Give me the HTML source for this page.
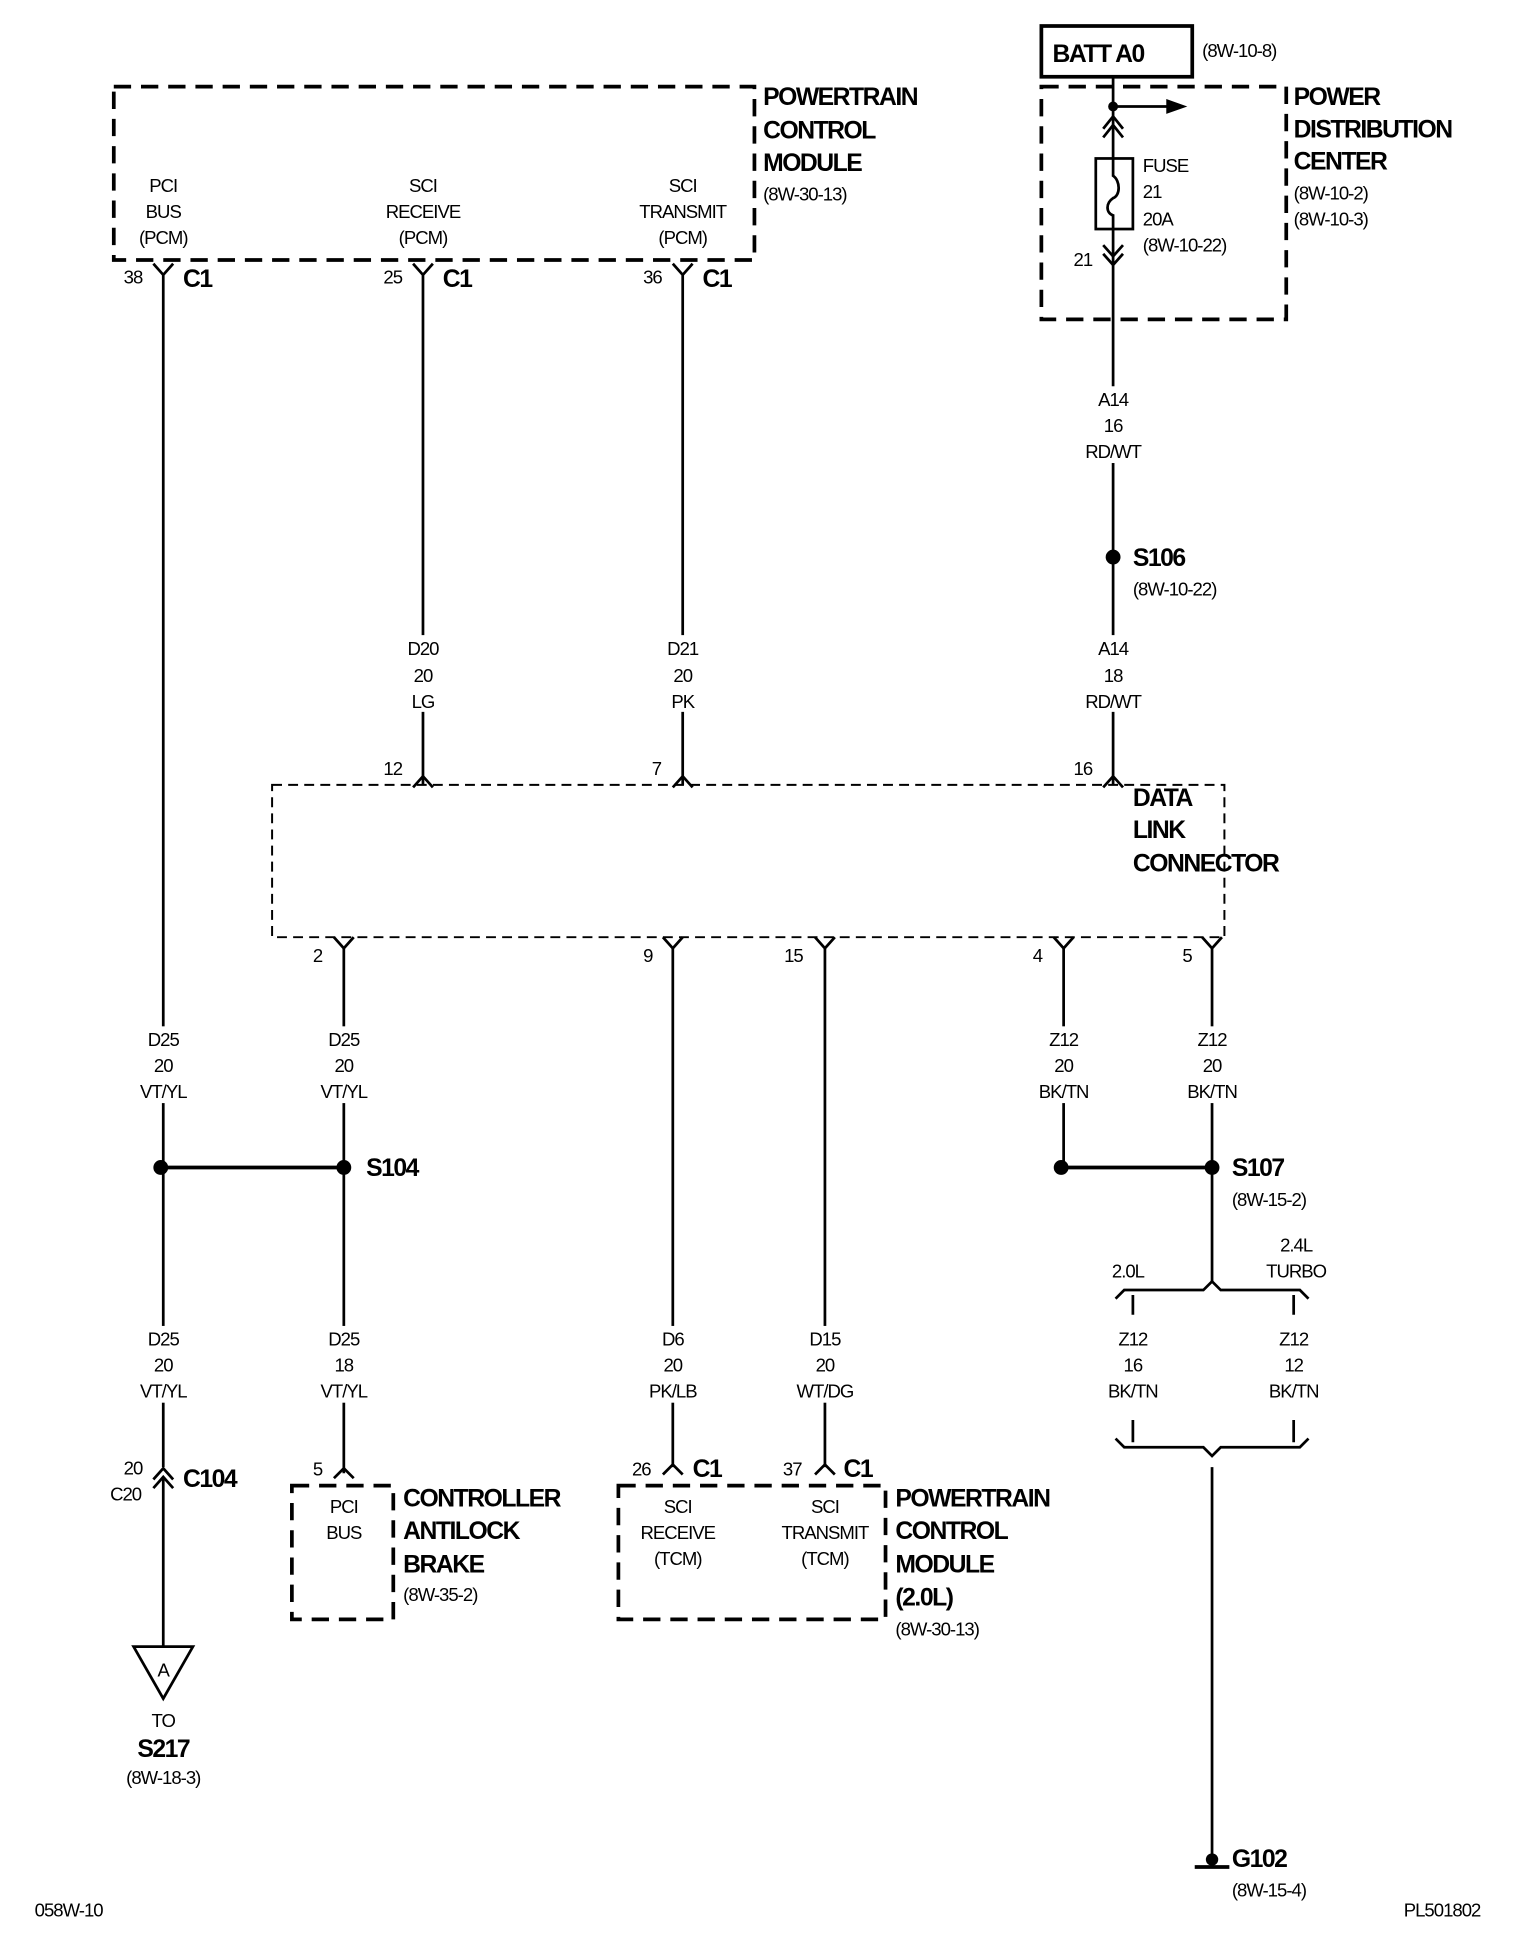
<!DOCTYPE html>
<html><head><meta charset="utf-8"><style>
html,body{margin:0;padding:0;background:#fff;}
svg{display:block}
text{font-family:"Liberation Sans",Arial,sans-serif;fill:#000;}
.s{font-size:15px;letter-spacing:-0.8px;text-anchor:middle}
.l{font-size:15px;letter-spacing:-0.8px}
.b{font-size:20px;font-weight:bold;letter-spacing:-1.2px}
.w{stroke:#000;stroke-width:2.2;fill:none}
.d{stroke:#000;stroke-width:3;fill:none;stroke-dasharray:14 8}
.t{stroke:#000;stroke-width:1.6;fill:none;stroke-dasharray:8 5}
</style></head><body>
<svg width="1520" height="1940" viewBox="0 0 1229 1567" preserveAspectRatio="none" xmlns="http://www.w3.org/2000/svg">
<!-- PCM top -->
<rect x="92" y="70" width="518" height="140" class="d"/>
<text class="s" x="132" y="155">PCI</text><text class="s" x="132" y="176">BUS</text><text class="s" x="132" y="197">(PCM)</text>
<text class="s" x="342" y="155">SCI</text><text class="s" x="342" y="176">RECEIVE</text><text class="s" x="342" y="197">(PCM)</text>
<text class="s" x="552" y="155">SCI</text><text class="s" x="552" y="176">TRANSMIT</text><text class="s" x="552" y="197">(PCM)</text>
<text class="b" x="617" y="85">POWERTRAIN</text><text class="b" x="617" y="112">CONTROL</text><text class="b" x="617" y="138">MODULE</text>
<text class="l" x="617" y="162">(8W-30-13)</text>
<g class="w">
<path d="M124 213 L132 222 L140 213 M132 222 V943 M132 943 V1330"/>
<path d="M334 213 L342 222 L350 213 M342 222 V634"/>
<path d="M544 213 L552 222 L560 213 M552 222 V634"/>
</g>
<text class="l" x="100" y="229">38</text><text class="b" x="148" y="232">C1</text>
<text class="l" x="310" y="229">25</text><text class="b" x="358" y="232">C1</text>
<text class="l" x="520" y="229">36</text><text class="b" x="568" y="232">C1</text>
<!-- BATT / PDC -->
<rect x="842" y="21" width="122" height="41" fill="none" stroke="#000" stroke-width="3"/>
<text class="b" x="851" y="50">BATT A0</text>
<text class="l" x="972" y="46">(8W-10-8)</text>
<rect x="842" y="70" width="198" height="188" class="d"/>
<text class="b" x="1046" y="85">POWER</text><text class="b" x="1046" y="111">DISTRIBUTION</text><text class="b" x="1046" y="137">CENTER</text>
<text class="l" x="1046" y="161">(8W-10-2)</text><text class="l" x="1046" y="182">(8W-10-3)</text>
<g class="w">
<path d="M900 62 V128 M900 185 V634"/>
<path d="M900 86 H945"/>
<path d="M892 104 L900 94 L908 104 M892 111 L900 101 L908 111"/>
<rect x="886" y="128" width="30" height="57"/>
<path d="M900 128 V142 C906 146 906 158 900 160 C894 164 894 172 900 174 V185"/>
<path d="M892 198 L900 207 L908 198 M892 205 L900 214 L908 205"/>
</g>
<circle cx="900" cy="86" r="4"/>
<path d="M943 80 L960 86 L943 92 Z"/>
<text class="l" x="924" y="139">FUSE</text><text class="l" x="924" y="160">21</text><text class="l" x="924" y="182">20A</text><text class="l" x="924" y="203">(8W-10-22)</text>
<text class="l" x="868" y="215">21</text>
<circle cx="900" cy="450" r="6"/>
<text class="b" x="916" y="457">S106</text><text class="l" x="916" y="481">(8W-10-22)</text>
<!-- DLC -->
<rect x="220" y="634" width="770" height="123" class="t"/>
<g class="w">
<path d="M334 636 L342 627 L350 636"/><path d="M544 636 L552 627 L560 636"/><path d="M892 636 L900 627 L908 636"/>
<path d="M270 757 L278 766 L286 757 M278 766 V1190"/>
<path d="M536 757 L544 766 L552 757 M544 766 V1185"/>
<path d="M659 757 L667 766 L675 757 M667 766 V1185"/>
<path d="M852 757 L860 766 L868 757 M860 766 V943"/>
<path d="M972 757 L980 766 L988 757 M980 766 V1035"/>
</g>
<text class="l" x="310" y="626">12</text><text class="l" x="527" y="626">7</text><text class="l" x="868" y="626">16</text>
<text class="b" x="916" y="651">DATA</text><text class="b" x="916" y="677">LINK</text><text class="b" x="916" y="704">CONNECTOR</text>
<text class="l" x="253" y="777">2</text><text class="l" x="520" y="777">9</text><text class="l" x="634" y="777">15</text><text class="l" x="835" y="777">4</text><text class="l" x="956" y="777">5</text>
<!-- white gaps behind labels -->
<g fill="#fff">
<rect x="100" y="829" width="64" height="62"/><rect x="246" y="829" width="64" height="62"/>
<rect x="828" y="829" width="64" height="62"/><rect x="948" y="829" width="64" height="62"/>
<rect x="100" y="1071" width="64" height="62"/><rect x="246" y="1071" width="64" height="62"/>
<rect x="512" y="1071" width="64" height="62"/><rect x="635" y="1071" width="64" height="62"/>
<rect x="500" y="513" width="104" height="62"/><rect x="290" y="513" width="104" height="62"/>
<rect x="868" y="513" width="64" height="62"/><rect x="868" y="312" width="64" height="62"/>
</g>
<text class="s" x="132" y="845">D25</text><text class="s" x="132" y="866">20</text><text class="s" x="132" y="887">VT/YL</text>
<text class="s" x="278" y="845">D25</text><text class="s" x="278" y="866">20</text><text class="s" x="278" y="887">VT/YL</text>
<text class="s" x="860" y="845">Z12</text><text class="s" x="860" y="866">20</text><text class="s" x="860" y="887">BK/TN</text>
<text class="s" x="980" y="845">Z12</text><text class="s" x="980" y="866">20</text><text class="s" x="980" y="887">BK/TN</text>
<text class="s" x="342" y="529">D20</text><text class="s" x="342" y="551">20</text><text class="s" x="342" y="572">LG</text>
<text class="s" x="552" y="529">D21</text><text class="s" x="552" y="551">20</text><text class="s" x="552" y="572">PK</text>
<text class="s" x="900" y="529">A14</text><text class="s" x="900" y="551">18</text><text class="s" x="900" y="572">RD/WT</text>
<text class="s" x="900" y="328">A14</text><text class="s" x="900" y="349">16</text><text class="s" x="900" y="370">RD/WT</text>
<!-- splices -->
<path class="w" d="M130 943 H278 M858 943 H980" style="stroke-width:3"/>
<circle cx="130" cy="943" r="6"/><circle cx="278" cy="943" r="6"/>
<circle cx="858" cy="943" r="6"/><circle cx="980" cy="943" r="6"/>
<text class="b" x="296" y="950">S104</text>
<text class="b" x="996" y="950">S107</text><text class="l" x="996" y="974">(8W-15-2)</text>
<!-- brackets -->
<g class="w">
<path d="M902 1049 L909 1042 H973 L980 1035 L987 1042 H1051 L1058 1049"/>
<path d="M916 1046 V1062 M1046 1046 V1062 M916 1147 V1165 M1046 1147 V1165"/>
<path d="M902 1162 L909 1169 H973 L980 1176 L987 1169 H1051 L1058 1162"/>
<path d="M980 1185 V1502"/>
</g>
<text class="s" x="912" y="1032">2.0L</text>
<text class="s" x="1048" y="1011">2.4L</text><text class="s" x="1048" y="1032">TURBO</text>
<text class="s" x="916" y="1087">Z12</text><text class="s" x="916" y="1108">16</text><text class="s" x="916" y="1129">BK/TN</text>
<text class="s" x="1046" y="1087">Z12</text><text class="s" x="1046" y="1108">12</text><text class="s" x="1046" y="1129">BK/TN</text>
<text class="s" x="132" y="1087">D25</text><text class="s" x="132" y="1108">20</text><text class="s" x="132" y="1129">VT/YL</text>
<text class="s" x="278" y="1087">D25</text><text class="s" x="278" y="1108">18</text><text class="s" x="278" y="1129">VT/YL</text>
<text class="s" x="544" y="1087">D6</text><text class="s" x="544" y="1108">20</text><text class="s" x="544" y="1129">PK/LB</text>
<text class="s" x="667" y="1087">D15</text><text class="s" x="667" y="1108">20</text><text class="s" x="667" y="1129">WT/DG</text>
<!-- ground -->
<circle cx="980" cy="1502" r="5"/>
<path d="M966 1508 H994" stroke="#000" stroke-width="3"/>
<text class="b" x="996" y="1508">G102</text><text class="l" x="996" y="1532">(8W-15-4)</text>
<!-- C104 -->
<rect x="126" y="1185" width="12" height="8" fill="#fff"/>
<g class="w">
<path d="M124 1195 L132 1186 L140 1195 M124 1202 L132 1193 L140 1202"/>
<path d="M108 1330 H156 L132 1372 Z"/>
<path d="M270 1194 L278 1186 L286 1194"/>
<path d="M536 1191 L544 1183 L552 1191"/>
<path d="M659 1191 L667 1183 L675 1191"/>
</g>
<text class="l" x="100" y="1191">20</text><text class="l" x="89" y="1212">C20</text>
<text class="b" x="148" y="1201">C104</text>
<text class="s" x="132" y="1354">A</text>
<text class="s" x="132" y="1395">TO</text>
<text class="b" x="132" y="1419" text-anchor="middle">S217</text>
<text class="s" x="132" y="1441">(8W-18-3)</text>
<!-- ABS -->
<rect x="236" y="1200" width="82" height="108" class="d"/>
<text class="l" x="253" y="1192">5</text>
<text class="s" x="278" y="1222">PCI</text><text class="s" x="278" y="1243">BUS</text>
<text class="b" x="326" y="1217">CONTROLLER</text><text class="b" x="326" y="1243">ANTILOCK</text><text class="b" x="326" y="1270">BRAKE</text>
<text class="l" x="326" y="1293">(8W-35-2)</text>
<!-- PCM 2.0L -->
<rect x="500" y="1200" width="216" height="108" class="d"/>
<text class="l" x="511" y="1192">26</text><text class="b" x="560" y="1193">C1</text>
<text class="l" x="633" y="1192">37</text><text class="b" x="682" y="1193">C1</text>
<text class="s" x="548" y="1222">SCI</text><text class="s" x="548" y="1243">RECEIVE</text><text class="s" x="548" y="1264">(TCM)</text>
<text class="s" x="667" y="1222">SCI</text><text class="s" x="667" y="1243">TRANSMIT</text><text class="s" x="667" y="1264">(TCM)</text>
<text class="b" x="724" y="1217">POWERTRAIN</text><text class="b" x="724" y="1243">CONTROL</text><text class="b" x="724" y="1270">MODULE</text><text class="b" x="724" y="1297">(2.0L)</text>
<text class="l" x="724" y="1321">(8W-30-13)</text>
<!-- footer -->
<text class="l" x="28" y="1548">058W-10</text>
<text class="l" x="1135" y="1548">PL501802</text>
</svg>
</body></html>
